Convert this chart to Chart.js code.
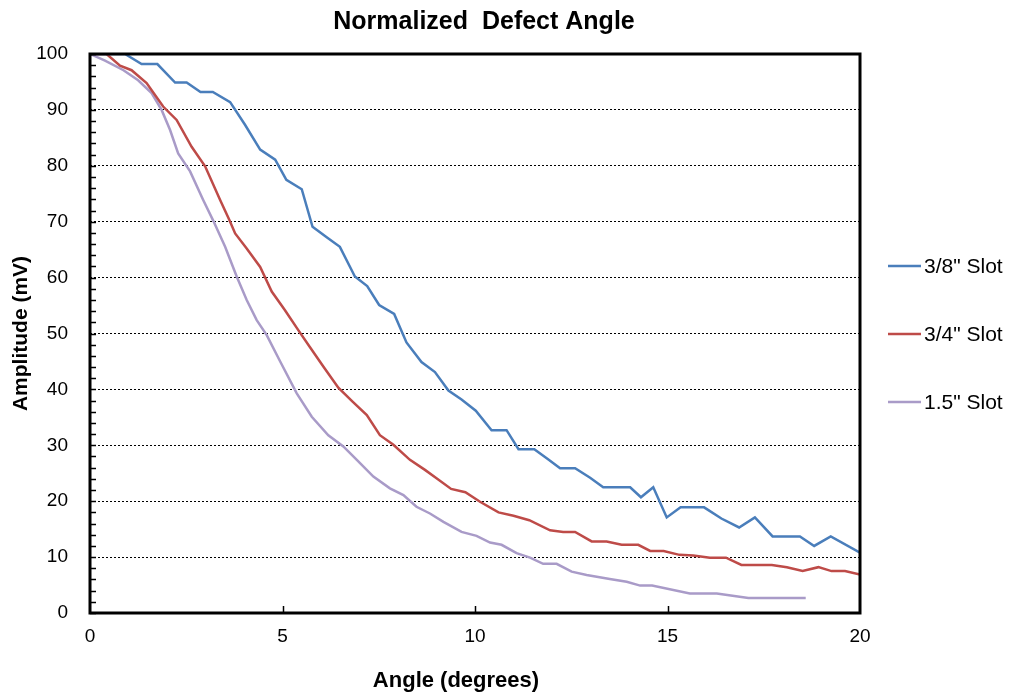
<!DOCTYPE html>
<html>
<head>
<meta charset="utf-8">
<script src="https://cdn.jsdelivr.net/npm/chart.js@4.4.0/dist/chart.umd.min.js"></script>
<style>
  html, body { margin: 0; padding: 0; background: #fff; }
  #wrap { width: 1014px; height: 696px; }
</style>
</head>
<body>
<div id="wrap"><canvas id="c" width="1014" height="696"></canvas></div>
<script>
const chartTitle = "Normalized  Defect Angle";
const xTitle = "Angle (degrees)";
const yTitle = "Amplitude (mV)";
const seriesNames = ['3/8" Slot', '3/4" Slot', '1.5" Slot'];
const seriesColors = ["#4A7EBB", "#BE4B48", "#A99BC8"];

const slot38X = [0, 0.91, 1.34, 1.75, 2.21, 2.51, 2.87, 3.19, 3.64, 4.03, 4.42, 4.81, 5.1, 5.5, 5.78, 6.13, 6.49, 6.88, 7.2, 7.51, 7.9, 8.22, 8.61, 8.96, 9.31, 9.65, 10.02, 10.43, 10.82, 11.13, 11.54, 11.88, 12.21, 12.6, 12.99, 13.33, 14.03, 14.31, 14.63, 14.98, 15.34, 15.95, 16.4, 16.86, 17.27, 17.73, 18.44, 18.81, 19.24, 20];
const slot38Y = [100, 100, 98.2, 98.2, 94.9, 94.9, 93.2, 93.2, 91.4, 87.3, 82.9, 81.1, 77.5, 75.8, 69.1, 67.3, 65.5, 60.2, 58.5, 55.1, 53.5, 48.4, 44.9, 43.1, 39.8, 38.2, 36.2, 32.7, 32.7, 29.3, 29.3, 27.6, 25.9, 25.9, 24.2, 22.5, 22.5, 20.7, 22.5, 17.1, 18.9, 18.9, 16.9, 15.3, 17.1, 13.7, 13.7, 12.0, 13.7, 10.8];

const slot34X = [0, 0.43, 0.78, 1.08, 1.47, 1.9, 2.25, 2.64, 2.99, 3.38, 3.62, 3.77, 4.07, 4.42, 4.72, 5.06, 5.41, 5.71, 6.06, 6.45, 6.82, 7.19, 7.53, 7.88, 8.31, 8.7, 9.0, 9.38, 9.75, 10.13, 10.61, 11.0, 11.41, 11.95, 12.29, 12.6, 13.03, 13.42, 13.81, 14.24, 14.55, 14.9, 15.31, 15.67, 16.1, 16.52, 16.92, 17.71, 18.1, 18.51, 18.92, 19.26, 19.61, 20];
const slot34Y = [100, 100, 97.9, 97.1, 94.8, 90.6, 88.2, 83.4, 79.9, 73.9, 70.3, 67.9, 65.2, 61.9, 57.5, 54.2, 50.6, 47.6, 44.1, 40.3, 37.8, 35.4, 31.8, 30.1, 27.4, 25.6, 24.1, 22.2, 21.6, 19.9, 18.0, 17.4, 16.6, 14.8, 14.5, 14.5, 12.8, 12.8, 12.2, 12.2, 11.1, 11.1, 10.4, 10.3, 9.9, 9.9, 8.6, 8.6, 8.2, 7.5, 8.2, 7.5, 7.5, 6.9];

const slot15X = [0, 0.39, 0.87, 1.25, 1.6, 1.86, 2.08, 2.29, 2.6, 2.94, 3.2, 3.51, 3.81, 4.07, 4.33, 4.59, 4.94, 5.37, 5.76, 6.19, 6.58, 6.93, 7.36, 7.79, 8.14, 8.48, 8.83, 9.18, 9.65, 10.04, 10.39, 10.69, 11.08, 11.43, 11.77, 12.12, 12.51, 12.9, 13.5, 13.94, 14.29, 14.6, 15.58, 16.28, 17.1, 18.59];
const slot15Y = [100, 98.8, 97.1, 95.3, 93.0, 90.0, 86.4, 82.2, 79.0, 73.9, 70.2, 65.5, 60.2, 56.0, 52.4, 49.7, 45.0, 39.3, 35.1, 31.8, 29.8, 27.4, 24.4, 22.3, 21.1, 19.0, 17.8, 16.3, 14.5, 13.8, 12.6, 12.2, 10.7, 9.9, 8.8, 8.8, 7.4, 6.8, 6.1, 5.6, 4.9, 4.9, 3.5, 3.5, 2.7, 2.7];

const yMajorTicks = [0, 10, 20, 30, 40, 50, 60, 70, 80, 90, 100];
const yMinorTicks = [2, 4, 6, 8, 12, 14, 16, 18, 22, 24, 26, 28, 32, 34, 36, 38, 42, 44, 46, 48, 52, 54, 56, 58, 62, 64, 66, 68, 72, 74, 76, 78, 82, 84, 86, 88, 92, 94, 96, 98];
const xMajorTicks = [5, 10, 15];

const FONT = "'Liberation Sans', Arial, sans-serif";

function pairs(xs, ys) { return xs.map((x, i) => ({ x: x, y: ys[i] })); }

const decorPlugin = {
  id: 'decor',
  afterDraw(chart) {
    const { ctx, chartArea: a, scales: { x, y } } = chart;
    ctx.save();
    ctx.strokeStyle = '#000';
    ctx.lineWidth = 1.5;
    ctx.beginPath();
    for (const v of yMinorTicks.concat(yMajorTicks)) {
      const py = Math.round(y.getPixelForValue(v)) + 0.5;
      ctx.moveTo(a.left, py); ctx.lineTo(a.left + 6, py);
    }
    for (const v of xMajorTicks) {
      const px = Math.round(x.getPixelForValue(v)) + 0.5;
      ctx.moveTo(px, a.bottom); ctx.lineTo(px, a.bottom - 7);
    }
    ctx.stroke();
    ctx.lineWidth = 3;
    ctx.strokeRect(a.left, a.top, a.right - a.left, a.bottom - a.top);

    ctx.fillStyle = '#000';
    ctx.textAlign = 'center';
    ctx.textBaseline = 'middle';
    ctx.font = "bold 25px " + FONT;
    ctx.fillText(chartTitle, 484, 22);
    ctx.font = "bold 22px " + FONT;
    ctx.fillText(xTitle, 456, 681);

    const legendY = [266, 334, 402];
    ctx.font = "21px " + FONT;
    ctx.textAlign = 'left';
    chart.data.datasets.forEach((ds, i) => {
      ctx.strokeStyle = ds.borderColor;
      ctx.lineWidth = 2.5;
      ctx.beginPath();
      ctx.moveTo(888, legendY[i]); ctx.lineTo(921, legendY[i]);
      ctx.stroke();
      ctx.fillStyle = '#000';
      ctx.fillText(ds.label, 924, legendY[i] + 1);
    });
    ctx.restore();
  }
};

new Chart(document.getElementById('c'), {
  type: 'line',
  data: {
    datasets: [
      { label: seriesNames[0], data: pairs(slot38X, slot38Y), borderColor: seriesColors[0], backgroundColor: seriesColors[0] },
      { label: seriesNames[1], data: pairs(slot34X, slot34Y), borderColor: seriesColors[1], backgroundColor: seriesColors[1] },
      { label: seriesNames[2], data: pairs(slot15X, slot15Y), borderColor: seriesColors[2], backgroundColor: seriesColors[2] }
    ]
  },
  options: {
    responsive: false,
    animation: false,
    devicePixelRatio: 1,
    layout: { padding: { top: 54, right: 154, left: 0, bottom: 0 } },
    elements: {
      line: { borderWidth: 2.5, tension: 0, fill: false },
      point: { radius: 0, hoverRadius: 0 }
    },
    plugins: {
      legend: { display: false },
      title: { display: false },
      tooltip: { enabled: false }
    },
    scales: {
      x: {
        type: 'linear', min: 0, max: 20,
        ticks: { stepSize: 5, color: '#000', font: { family: FONT, size: 19 }, padding: 12, maxRotation: 0 },
        grid: { display: false, drawTicks: false },
        border: { display: false },
        title: { display: false },
        afterFit(scale) { scale.height = 83; }
      },
      y: {
        type: 'linear', min: 0, max: 100,
        ticks: { stepSize: 10, color: '#000', font: { family: FONT, size: 19 }, padding: 22 },
        grid: { color: '#000', lineWidth: 1, drawTicks: false },
        border: { display: false, dash: [2, 2] },
        title: { display: true, text: yTitle, color: '#000', font: { family: FONT, size: 21, weight: 'bold' }, padding: { top: 9, bottom: 0 } },
        afterFit(scale) { scale.width = 90; }
      }
    }
  },
  plugins: [decorPlugin]
});
</script>
</body>
</html>
